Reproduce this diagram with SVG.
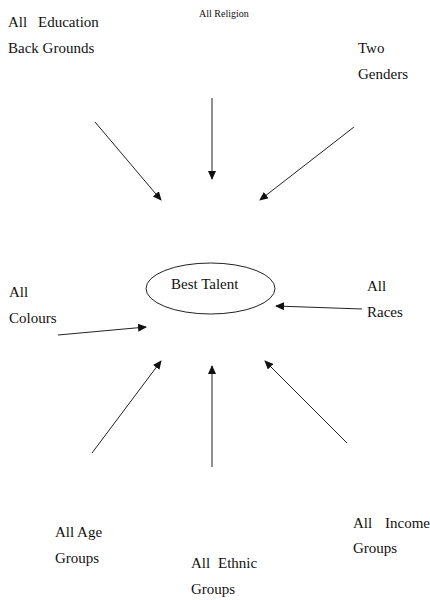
<svg xmlns="http://www.w3.org/2000/svg" width="430" height="600" viewBox="0 0 430 600" font-family="'Liberation Serif', 'Times New Roman', 'DejaVu Serif', serif">
<style>
text{font-family:'Liberation Serif','Times New Roman','DejaVu Serif',serif;font-size:15px;fill:#111}
.small{font-size:10px}
.c line{stroke:#222;stroke-width:1;marker-end:url(#ah)}
</style>
<defs>
<marker id="ah" markerWidth="9" markerHeight="8" refX="8" refY="4" orient="auto" markerUnits="userSpaceOnUse">
<path d="M0,0 L9,4 L0,8 Z" fill="#111"/>
</marker>
</defs>
<rect width="430" height="600" fill="#fff"/>
<g id="center">
<ellipse cx="210.5" cy="288.5" rx="64.5" ry="25.5" fill="none" stroke="#222" stroke-width="1"/>
<text x="171" y="289">Best Talent</text>
</g>
<g id="education"><text x="8" y="27">All<tspan x="38">Education</tspan></text><text x="8" y="53">Back Grounds</text></g>
<g id="religion"><text class="small" x="199" y="17">All Religion</text></g>
<g id="genders"><text x="358" y="53">Two</text><text x="358" y="79">Genders</text></g>
<g id="colours"><text x="9" y="297">All</text><text x="9" y="323">Colours</text></g>
<g id="races"><text x="367" y="291">All</text><text x="367" y="317">Races</text></g>
<g id="age"><text x="55" y="537">All Age</text><text x="55" y="563">Groups</text></g>
<g id="ethnic"><text x="191" y="568">All<tspan x="218">Ethnic</tspan></text><text x="191" y="594">Groups</text></g>
<g id="income"><text x="353" y="528">All<tspan x="385">Income</tspan></text><text x="353" y="553">Groups</text></g>
<g class="c" id="connectors">
<line x1="95" y1="122" x2="161" y2="200"/>
<line x1="212" y1="98" x2="212" y2="179"/>
<line x1="354" y1="127" x2="260" y2="200"/>
<line x1="362" y1="309" x2="276" y2="306"/>
<line x1="58" y1="335" x2="146" y2="327"/>
<line x1="92" y1="453" x2="161" y2="361"/>
<line x1="212" y1="467" x2="212" y2="366"/>
<line x1="347" y1="443" x2="265" y2="361"/>
</g>
</svg>
